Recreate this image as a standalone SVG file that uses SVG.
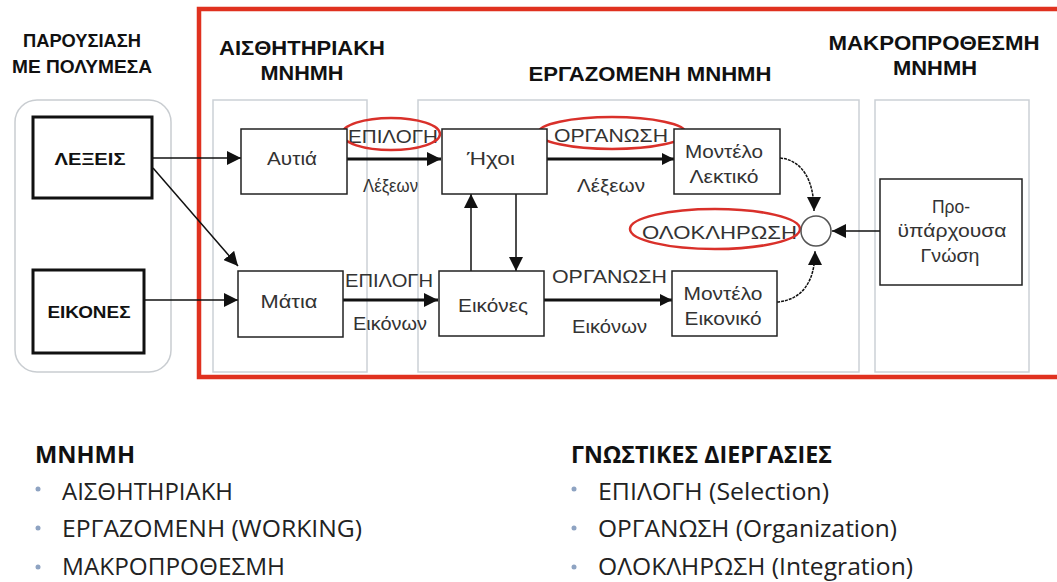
<svg xmlns="http://www.w3.org/2000/svg" width="1057" height="582" viewBox="0 0 1057 582">
  <defs>
    <marker id="arrow" viewBox="0 0 12 12" refX="12" refY="6" markerWidth="12" markerHeight="12" markerUnits="userSpaceOnUse" orient="auto">
      <path d="M0,0 L12,6 L0,12 z" fill="#111"/>
    </marker>
    <marker id="arrowBig" viewBox="0 0 14 14" refX="14" refY="7" markerWidth="14" markerHeight="14" markerUnits="userSpaceOnUse" orient="auto">
      <path d="M0,0 L14,7 L0,14 z" fill="#111"/>
    </marker>
  </defs>
  <style>
    .head { font-family: "Liberation Sans", Arial, sans-serif; font-weight: bold; fill: #111; }
    .panel { fill: #fff; stroke: #ccd1d6; stroke-width: 1.5; }
    .box { fill: #fff; stroke: #222; stroke-width: 1.5; }
    .boxBold { fill: #fff; stroke: #111; stroke-width: 3; }
    .lbl { font-family: "Liberation Sans", Arial, sans-serif; font-size: 17.5px; fill: #333; text-anchor: middle; }
    .lblB { font-family: "Liberation Sans", Arial, sans-serif; font-size: 17px; font-weight: bold; fill: #111; text-anchor: middle; }
    .edge { font-family: "Liberation Sans", Arial, sans-serif; font-size: 17.5px; fill: #333; }
    .thin { fill: none; stroke: #111; stroke-width: 1.5; }
    .thick { fill: none; stroke: #111; stroke-width: 3; }
    .ring { fill: none; stroke: #d9302a; stroke-width: 2.5; }
    .list { font-family: "Open Sans", "Noto Sans", sans-serif; font-size: 23px; fill: #222; }
    .listH { font-family: "Open Sans", "Noto Sans", sans-serif; font-size: 24px; font-weight: bold; fill: #111; }
    .dot { fill: #8ea3c2; }
  </style>

  <rect width="1057" height="582" fill="#fff"/>

  <!-- multimedia presentation column -->
  <g id="presentation">
    <rect x="15" y="100" width="156" height="272" rx="22" ry="22" fill="#fff" stroke="#c9cdd1" stroke-width="1.5"/>
    <text class="head" x="82" y="47" font-size="19" text-anchor="middle" textLength="118" lengthAdjust="spacingAndGlyphs">ΠΑΡΟΥΣΙΑΣΗ</text>
    <text class="head" x="82" y="73" font-size="19" text-anchor="middle" textLength="140" lengthAdjust="spacingAndGlyphs">ΜΕ ΠΟΛΥΜΕΣΑ</text>
  </g>

  <!-- memory stores frame -->
  <rect x="199" y="9" width="870" height="368" fill="none" stroke="#e0311f" stroke-width="4.5"/>

  <g id="sensory-panel">
    <rect class="panel" x="213" y="100" width="154" height="272"/>
    <text class="head" x="302" y="55" font-size="21" text-anchor="middle" textLength="166" lengthAdjust="spacingAndGlyphs">ΑΙΣΘΗΤΗΡΙΑΚΗ</text>
    <text class="head" x="302" y="80" font-size="21" text-anchor="middle" textLength="83" lengthAdjust="spacingAndGlyphs">ΜΝΗΜΗ</text>
  </g>
  <g id="working-panel">
    <rect class="panel" x="418" y="100" width="441" height="272"/>
    <text class="head" x="650" y="81" font-size="21" text-anchor="middle" textLength="243" lengthAdjust="spacingAndGlyphs">ΕΡΓΑΖΟΜΕΝΗ ΜΝΗΜΗ</text>
  </g>
  <g id="longterm-panel">
    <rect class="panel" x="875" y="100" width="154" height="272"/>
    <text class="head" x="934" y="50" font-size="21" text-anchor="middle" textLength="211" lengthAdjust="spacingAndGlyphs">ΜΑΚΡΟΠΡΟΘΕΣΜΗ</text>
    <text class="head" x="935" y="75" font-size="21" text-anchor="middle" textLength="84" lengthAdjust="spacingAndGlyphs">ΜΝΗΜΗ</text>
  </g>

  <!-- connectors -->
  <g id="connectors">
    <line class="thin" x1="152" y1="158" x2="241" y2="158" marker-end="url(#arrowBig)"/>
    <line class="thin" x1="153" y1="168" x2="238" y2="266" stroke="#333" marker-end="url(#arrowBig)"/>
    <line class="thin" x1="144" y1="300" x2="238" y2="300" marker-end="url(#arrowBig)"/>
    <line class="thick" x1="347" y1="159" x2="441" y2="159" marker-end="url(#arrowBig)"/>
    <line class="thick" x1="343" y1="300" x2="438" y2="300" marker-end="url(#arrowBig)"/>
    <line class="thick" x1="547" y1="159" x2="674" y2="159" marker-end="url(#arrow)"/>
    <line class="thick" x1="544" y1="300" x2="672" y2="300" marker-end="url(#arrow)"/>
    <line class="thin" x1="471" y1="271" x2="471" y2="194" marker-end="url(#arrowBig)"/>
    <line class="thin" x1="516" y1="194" x2="516" y2="271" marker-end="url(#arrowBig)"/>
    <path class="thin" d="M780,158 C802,160 814,180 814,211" stroke-dasharray="3 1" marker-end="url(#arrowBig)"/>
    <path class="thin" d="M777,302 C802,300 815,282 815,251" stroke-dasharray="3 1" marker-end="url(#arrowBig)"/>
    <line class="thin" x1="880" y1="231" x2="832" y2="231" marker-end="url(#arrowBig)"/>
    <text class="edge" x="348" y="143" textLength="90" lengthAdjust="spacingAndGlyphs">ΕΠΙΛΟΓΗ</text>
    <text class="edge" x="363" y="192" textLength="55" lengthAdjust="spacingAndGlyphs">Λέξεων</text>
    <text class="edge" x="345" y="287" textLength="88" lengthAdjust="spacingAndGlyphs">ΕΠΙΛΟΓΗ</text>
    <text class="edge" x="353" y="330" textLength="74" lengthAdjust="spacingAndGlyphs">Εικόνων</text>
    <text class="edge" x="554" y="142" textLength="114" lengthAdjust="spacingAndGlyphs">ΟΡΓΑΝΩΣΗ</text>
    <text class="edge" x="577" y="192" textLength="68" lengthAdjust="spacingAndGlyphs">Λέξεων</text>
    <text class="edge" x="552" y="283" textLength="115" lengthAdjust="spacingAndGlyphs">ΟΡΓΑΝΩΣΗ</text>
    <text class="edge" x="572" y="333" textLength="75" lengthAdjust="spacingAndGlyphs">Εικόνων</text>
    <text class="edge" x="642" y="239" font-size="21" textLength="155" lengthAdjust="spacingAndGlyphs">ΟΛΟΚΛΗΡΩΣΗ</text>
    <ellipse class="ring" cx="391" cy="134" rx="49" ry="16"/>
    <ellipse class="ring" cx="612" cy="133" rx="74" ry="16"/>
    <ellipse class="ring" cx="715" cy="229" rx="85" ry="20"/>
  </g>

  <!-- nodes -->
  <g id="words">
    <rect class="boxBold" x="33" y="117" width="119" height="81"/>
    <text class="lblB" x="90" y="165" textLength="71" lengthAdjust="spacingAndGlyphs">ΛΕΞΕΙΣ</text>
  </g>
  <g id="pictures">
    <rect class="boxBold" x="33" y="270" width="111" height="83"/>
    <text class="lblB" x="89" y="318" textLength="83" lengthAdjust="spacingAndGlyphs">ΕΙΚΟΝΕΣ</text>
  </g>
  <g id="ears">
    <rect class="box" x="241" y="129" width="106" height="65"/>
    <text class="lbl" x="292" y="165" textLength="50" lengthAdjust="spacingAndGlyphs">Αυτιά</text>
  </g>
  <g id="eyes">
    <rect class="box" x="238" y="271" width="105" height="66"/>
    <text class="lbl" x="289" y="308" textLength="57" lengthAdjust="spacingAndGlyphs">Μάτια</text>
  </g>
  <g id="sounds">
    <rect class="box" x="442" y="129" width="105" height="65"/>
    <text class="lbl" x="491" y="165" textLength="48" lengthAdjust="spacingAndGlyphs">Ήχοι</text>
  </g>
  <g id="images">
    <rect class="box" x="439" y="271" width="105" height="65"/>
    <text class="lbl" x="493" y="312" textLength="70" lengthAdjust="spacingAndGlyphs">Εικόνες</text>
  </g>
  <g id="verbal-model">
    <rect class="box" x="674" y="129" width="106" height="65"/>
    <text class="lbl" x="724" y="158" textLength="78" lengthAdjust="spacingAndGlyphs">Μοντέλο</text>
    <text class="lbl" x="724" y="183" textLength="69" lengthAdjust="spacingAndGlyphs">Λεκτικό</text>
  </g>
  <g id="pictorial-model">
    <rect class="box" x="672" y="271" width="105" height="65"/>
    <text class="lbl" x="723" y="300" textLength="79" lengthAdjust="spacingAndGlyphs">Μοντέλο</text>
    <text class="lbl" x="723" y="325" textLength="77" lengthAdjust="spacingAndGlyphs">Εικονικό</text>
  </g>
  <g id="integration">
    <circle cx="816" cy="231" r="15" fill="#fff" stroke="#555" stroke-width="1.5"/>
  </g>
  <g id="prior-knowledge">
    <rect class="box" x="880" y="179" width="142" height="106"/>
    <text class="lbl" x="951" y="213" textLength="38" lengthAdjust="spacingAndGlyphs">Προ-</text>
    <text class="lbl" x="952" y="237" textLength="109" lengthAdjust="spacingAndGlyphs">ϋπάρχουσα</text>
    <text class="lbl" x="950" y="262" textLength="59" lengthAdjust="spacingAndGlyphs">Γνώση</text>
  </g>

  <!-- legend lists -->
  <g id="memory-list">
    <text class="listH" x="35" y="463" textLength="100" lengthAdjust="spacingAndGlyphs">ΜΝΗΜΗ</text>
    <circle class="dot" cx="38" cy="489" r="2.5"/>
    <circle class="dot" cx="38" cy="528" r="2.5"/>
    <circle class="dot" cx="38" cy="567" r="2.5"/>
    <text class="list" x="62" y="500" textLength="171" lengthAdjust="spacingAndGlyphs">ΑΙΣΘΗΤΗΡΙΑΚΗ</text>
    <text class="list" x="62" y="537" textLength="300" lengthAdjust="spacingAndGlyphs">ΕΡΓΑΖΟΜΕΝΗ (WORKING)</text>
    <text class="list" x="62" y="575" textLength="223" lengthAdjust="spacingAndGlyphs">ΜΑΚΡΟΠΡΟΘΕΣΜΗ</text>
  </g>
  <g id="process-list">
    <text class="listH" x="571" y="463" textLength="261" lengthAdjust="spacingAndGlyphs">ΓΝΩΣΤΙΚΕΣ ΔΙΕΡΓΑΣΙΕΣ</text>
    <circle class="dot" cx="574" cy="489" r="2.5"/>
    <circle class="dot" cx="574" cy="528" r="2.5"/>
    <circle class="dot" cx="574" cy="567" r="2.5"/>
    <text class="list" x="598" y="500" textLength="231" lengthAdjust="spacingAndGlyphs">ΕΠΙΛΟΓΗ (Selection)</text>
    <text class="list" x="598" y="537" textLength="299" lengthAdjust="spacingAndGlyphs">ΟΡΓΑΝΩΣΗ (Organization)</text>
    <text class="list" x="598" y="575" textLength="315" lengthAdjust="spacingAndGlyphs">ΟΛΟΚΛΗΡΩΣΗ (Integration)</text>
  </g>
</svg>
